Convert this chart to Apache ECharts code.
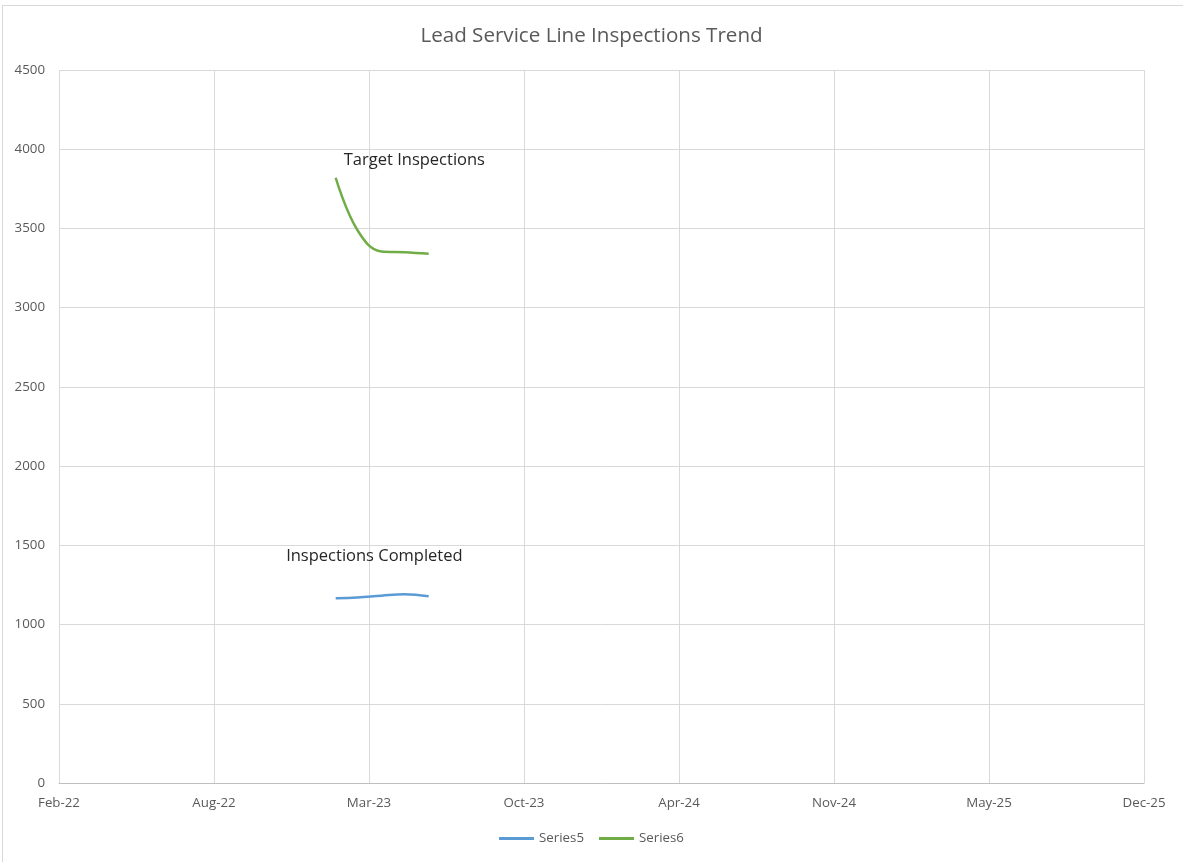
<!DOCTYPE html>
<html>
<head>
<meta charset="utf-8">
<script src="https://cdn.jsdelivr.net/npm/echarts@6/dist/echarts.min.js"></script>
<style>
  html, body { margin: 0; padding: 0; background: #fff; }
  #frame { position: absolute; left: 2px; top: 5px; width: 1190px; height: 870px; border: 1px solid #d9d9d9; box-sizing: border-box; }
  #chart { position: absolute; left: 0; top: 0; width: 1183px; height: 862px; }
</style>
</head>
<body>
<div id="frame"></div>
<div id="chart"></div>
<script>
// ---- data ----
const titleText = 'Lead Service Line Inspections Trend';
const axisStartDate = '2022-02-09';   // first x tick (Feb-22)
const axisStepDays = 200;             // tick spacing in days
const axisSteps = 7;                  // Feb-22 ... Dec-25
const yTicks = [0, 500, 1000, 1500, 2000, 2500, 3000, 3500, 4000, 4500];
const dates = ['2023-02-01', '2023-03-01', '2023-04-01', '2023-05-01', '2023-06-01'];
const series5Name = 'Series5';
const series6Name = 'Series6';
const series5Values = [1166, 1170, 1182, 1191, 1178];   // Inspections Completed
const series6Values = [3820, 3490, 3355, 3350, 3340];   // Target Inspections
const series5Label = 'Inspections Completed';
const series6Label = 'Target Inspections';
const labelIndex = 1;

// ---- helpers ----
const DAY = 86400000;
const base = Date.parse(axisStartDate + 'T00:00:00Z');
const toDays = d => (Date.parse(d + 'T00:00:00Z') - base) / DAY;
const months = ['Jan','Feb','Mar','Apr','May','Jun','Jul','Aug','Sep','Oct','Nov','Dec'];
const fmt = v => {
  const dt = new Date(base + v * DAY);
  return months[dt.getUTCMonth()] + '-' + String(dt.getUTCFullYear()).slice(2);
};
const gray = '#595959';
const font = '"Open Sans", "Noto Sans", sans-serif';

function buildData(values, label, offset) {
  return values.map((v, i) => {
    const item = { value: [toDays(dates[i]), v] };
    if (i === labelIndex) {
      item.label = {
        show: true, formatter: label, position: 'inside', offset: offset,
        fontFamily: font, fontSize: 16.5, color: '#262626'
      };
    }
    return item;
  });
}

const chart = echarts.init(document.getElementById('chart'), null, { renderer: 'canvas' });
chart.setOption({
  animation: false,
  title: {
    text: titleText, left: 'center', top: 21,
    textStyle: { fontFamily: font, fontSize: 20.6, fontWeight: 'normal', color: gray }
  },
  grid: { left: 59, top: 70, right: 39, bottom: 79, containLabel: false },
  legend: {
    bottom: 12, left: 'center', icon: 'rect', itemWidth: 35, itemHeight: 3, itemGap: 15,
    textStyle: { fontFamily: font, fontSize: 13.3, color: gray },
    data: [series5Name, series6Name]
  },
  xAxis: {
    type: 'value', min: 0, max: axisStepDays * axisSteps, interval: axisStepDays,
    axisLine: { show: true, lineStyle: { color: '#bfbfbf', width: 1 } },
    axisTick: { show: false },
    axisLabel: { formatter: fmt, fontFamily: font, fontSize: 13.3, color: gray, margin: 14 },
    splitLine: { show: true, lineStyle: { color: '#d9d9d9', width: 1 } }
  },
  yAxis: {
    type: 'value', min: yTicks[0], max: yTicks[yTicks.length - 1], interval: yTicks[1] - yTicks[0],
    axisLine: { show: false }, axisTick: { show: false },
    axisLabel: { formatter: v => String(v), fontFamily: font, fontSize: 13.3, color: gray, margin: 14 },
    splitLine: { show: true, lineStyle: { color: '#d9d9d9', width: 1 } }
  },
  series: [
    {
      name: series5Name, type: 'line', smooth: 0.4, showSymbol: true, symbol: 'circle', symbolSize: 0,
      lineStyle: { color: '#5b9bd5', width: 2.5 }, itemStyle: { color: '#5b9bd5' },
      data: buildData(series5Values, series5Label, [17, -41])
    },
    {
      name: series6Name, type: 'line', smooth: 0.4, showSymbol: true, symbol: 'circle', symbolSize: 0,
      lineStyle: { color: '#70ad47', width: 2.5 }, itemStyle: { color: '#70ad47' },
      data: buildData(series6Values, series6Label, [57, -70])
    }
  ]
});
</script>
</body>
</html>
